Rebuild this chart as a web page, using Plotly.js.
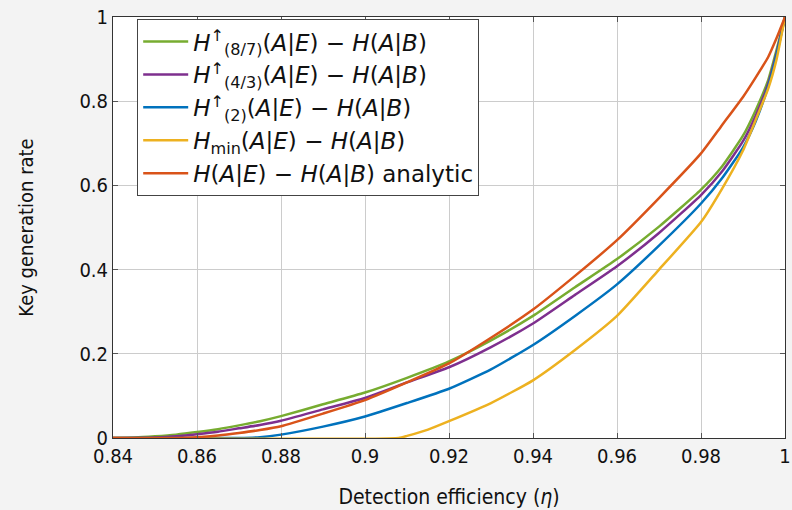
<!DOCTYPE html>
<html>
<head>
<meta charset="utf-8">
<script src="https://cdn.plot.ly/plotly-3.0.1.min.js"></script>
<style>
html,body{margin:0;padding:0;background:#f3f3f3;}
#chart{width:792px;height:510px;}
</style>
</head>
<body>
<div id="chart"></div>
<script>
// Detection efficiency samples
var eta = [0.84,0.845,0.85,0.855,0.86,0.865,0.87,0.875,0.88,0.89,0.90,0.91,0.92,0.93,0.94,0.95,0.96,0.97,0.98,0.985,0.99,0.993,0.996,0.998,1.0];
var h87 = [0,0.001,0.004,0.008,0.014,0.021,0.030,0.040,0.052,0.080,0.108,0.143,0.182,0.232,0.290,0.358,0.425,0.502,0.590,0.645,0.718,0.778,0.850,0.922,1.0];
var h43 = [0,0,0.001,0.004,0.009,0.015,0.023,0.031,0.041,0.068,0.095,0.132,0.168,0.216,0.272,0.340,0.408,0.487,0.577,0.633,0.705,0.765,0.842,0.915,1.0];
var h2  = [0,0,0,0,0,0,0,0.002,0.008,0.027,0.051,0.083,0.117,0.163,0.221,0.290,0.365,0.457,0.557,0.617,0.690,0.752,0.835,0.910,1.0];
var etaMin = [0.84,0.908,0.91,0.915,0.92,0.93,0.94,0.95,0.96,0.97,0.98,0.985,0.99,0.993,0.996,0.998,1.0];
var hMin   = [0,0,0.005,0.020,0.040,0.083,0.137,0.209,0.290,0.400,0.513,0.592,0.683,0.755,0.830,0.900,1.0];
var hAn = [0,0,0,0,0.002,0.006,0.012,0.019,0.028,0.058,0.090,0.132,0.177,0.238,0.305,0.385,0.470,0.570,0.676,0.743,0.810,0.856,0.905,0.950,1.0];

var names = [
  '<i>H</i><sup>↑</sup><sub>(8/7)</sub>(<i>A</i>|<i>E</i>) − <i>H</i>(<i>A</i>|<i>B</i>)',
  '<i>H</i><sup>↑</sup><sub>(4/3)</sub>(<i>A</i>|<i>E</i>) − <i>H</i>(<i>A</i>|<i>B</i>)',
  '<i>H</i><sup>↑</sup><sub>(2)</sub>(<i>A</i>|<i>E</i>) − <i>H</i>(<i>A</i>|<i>B</i>)',
  '<i>H</i><sub>min</sub>(<i>A</i>|<i>E</i>) − <i>H</i>(<i>A</i>|<i>B</i>)',
  '<i>H</i>(<i>A</i>|<i>E</i>) − <i>H</i>(<i>A</i>|<i>B</i>) analytic'
];
var colors = ['#77ac30','#7e2f8e','#0072bd','#edb120','#d95319'];
var xs = [eta, eta, eta, etaMin, eta];
var ys = [h87, h43, h2, hMin, hAn];

var traces = [];
for (var i = 0; i < ys.length; i++) {
  traces.push({x: xs[i], y: ys[i], name: names[i], mode: 'lines', type: 'scatter',
    line: {color: colors[i], width: 2.5, shape: 'spline', smoothing: 0.5}});
}

var fontFam = '"DejaVu Sans Condensed", "Liberation Sans Narrow", "DejaVu Sans", sans-serif';
var legFam = '"DejaVu Sans", "Open Sans", sans-serif';
var layout = {
  width: 792, height: 510,
  paper_bgcolor: '#f3f3f3', plot_bgcolor: '#ffffff',
  margin: {l: 113, r: 7, t: 17, b: 72},
  font: {family: fontFam, color: '#111', size: 18},
  showlegend: true,
  legend: {x: 0.036, y: 0.995, xanchor: 'left', yanchor: 'top', bgcolor: '#ffffff',
    bordercolor: '#444', borderwidth: 1, font: {size: 23, family: legFam, color: '#111'},
    tracegroupgap: 0, itemwidth: 45},
  xaxis: {range: [0.84, 1], tickvals: [0.84,0.86,0.88,0.9,0.92,0.94,0.96,0.98,1],
    ticktext: ['0.84','0.86','0.88','0.9','0.92','0.94','0.96','0.98','1'],
    showgrid: true, gridcolor: '#cccccc', gridwidth: 1, zeroline: false,
    showline: true, linecolor: '#333', linewidth: 1, mirror: 'ticks',
    ticks: 'inside', ticklen: 5, tickcolor: '#555',
    tickfont: {size: 20}, title: {text: 'Detection efficiency (<i>η</i>)', font: {size: 21}, standoff: 22}},
  yaxis: {range: [0, 1], tickvals: [0,0.2,0.4,0.6,0.8,1], ticktext: ['0','0.2','0.4','0.6','0.8','1'],
    showgrid: true, gridcolor: '#cccccc', gridwidth: 1, zeroline: false,
    showline: true, linecolor: '#333', linewidth: 1, mirror: 'ticks',
    ticks: 'inside', ticklen: 5, tickcolor: '#555',
    tickfont: {size: 20}, title: {text: 'Key generation rate', font: {size: 20}, standoff: 40}}
};
Plotly.newPlot('chart', traces, layout, {displayModeBar: false, staticPlot: true});
</script>
</body>
</html>
